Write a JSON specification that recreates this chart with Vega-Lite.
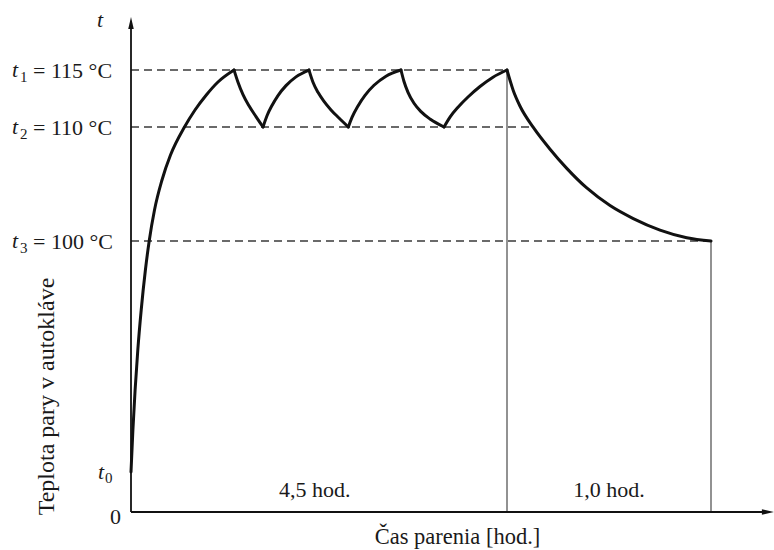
{
  "$schema": "https://vega.github.io/schema/vega-lite/v6.json",
  "width": 642,
  "height": 495,
  "autosize": {"type": "none"},
  "padding": {"left": 131, "top": 17, "right": 1, "bottom": 38},
  "background": "white",
  "config": {"view": {"stroke": null}, "font": "Liberation Serif"},
  "data": {"values": [{"popis": "os"}]},
  "datasets": {
    "krivka": [
      {"usek": 1, "h": 0, "T": 14.76},
      {"usek": 1, "h": 0.0227, "T": 30.26},
      {"usek": 1, "h": 0.0491, "T": 45.02},
      {"usek": 1, "h": 0.0814, "T": 59.78},
      {"usek": 1, "h": 0.1221, "T": 74.54},
      {"usek": 1, "h": 0.1723, "T": 89.3},
      {"usek": 1, "h": 0.2178, "T": 100},
      {"usek": 1, "h": 0.2812, "T": 102.72},
      {"usek": 1, "h": 0.371, "T": 105.35},
      {"usek": 1, "h": 0.4727, "T": 107.54},
      {"usek": 1, "h": 0.6403, "T": 110},
      {"usek": 1, "h": 0.766, "T": 111.49},
      {"usek": 1, "h": 0.9012, "T": 112.81},
      {"usek": 1, "h": 1.0412, "T": 113.95},
      {"usek": 1, "h": 1.233, "T": 115},
      {"usek": 2, "h": 1.233, "T": 115},
      {"usek": 2, "h": 1.2806, "T": 113.93},
      {"usek": 2, "h": 1.3404, "T": 112.84},
      {"usek": 2, "h": 1.4122, "T": 111.86},
      {"usek": 2, "h": 1.496, "T": 110.91},
      {"usek": 2, "h": 1.58, "T": 110},
      {"usek": 3, "h": 1.58, "T": 110},
      {"usek": 3, "h": 1.6277, "T": 110.99},
      {"usek": 3, "h": 1.6875, "T": 111.89},
      {"usek": 3, "h": 1.7593, "T": 112.76},
      {"usek": 3, "h": 1.855, "T": 113.63},
      {"usek": 3, "h": 1.9747, "T": 114.4},
      {"usek": 3, "h": 2.13, "T": 115},
      {"usek": 4, "h": 2.13, "T": 115},
      {"usek": 4, "h": 2.1782, "T": 113.93},
      {"usek": 4, "h": 2.238, "T": 113.04},
      {"usek": 4, "h": 2.3098, "T": 112.25},
      {"usek": 4, "h": 2.3936, "T": 111.5},
      {"usek": 4, "h": 2.4893, "T": 110.79},
      {"usek": 4, "h": 2.601, "T": 110},
      {"usek": 5, "h": 2.601, "T": 110},
      {"usek": 5, "h": 2.6449, "T": 110.84},
      {"usek": 5, "h": 2.7168, "T": 111.85},
      {"usek": 5, "h": 2.8005, "T": 112.78},
      {"usek": 5, "h": 2.9083, "T": 113.66},
      {"usek": 5, "h": 3.0518, "T": 114.46},
      {"usek": 5, "h": 3.231, "T": 115},
      {"usek": 6, "h": 3.231, "T": 115},
      {"usek": 6, "h": 3.2673, "T": 113.99},
      {"usek": 6, "h": 3.3152, "T": 113.04},
      {"usek": 6, "h": 3.387, "T": 112.08},
      {"usek": 6, "h": 3.4707, "T": 111.35},
      {"usek": 6, "h": 3.5784, "T": 110.7},
      {"usek": 6, "h": 3.746, "T": 110},
      {"usek": 7, "h": 3.746, "T": 110},
      {"usek": 7, "h": 3.8178, "T": 110.87},
      {"usek": 7, "h": 3.9136, "T": 111.73},
      {"usek": 7, "h": 4.0332, "T": 112.63},
      {"usek": 7, "h": 4.1768, "T": 113.55},
      {"usek": 7, "h": 4.3324, "T": 114.37},
      {"usek": 7, "h": 4.5, "T": 115},
      {"usek": 8, "h": 4.5, "T": 115},
      {"usek": 8, "h": 4.531, "T": 113.18},
      {"usek": 8, "h": 4.564, "T": 111.82},
      {"usek": 8, "h": 4.629, "T": 109.96},
      {"usek": 8, "h": 4.711, "T": 108.05},
      {"usek": 8, "h": 4.793, "T": 106.37},
      {"usek": 8, "h": 4.891, "T": 104.65},
      {"usek": 8, "h": 5.005, "T": 103.11},
      {"usek": 8, "h": 5.119, "T": 101.97},
      {"usek": 8, "h": 5.25, "T": 100.96},
      {"usek": 8, "h": 5.381, "T": 100.29},
      {"usek": 8, "h": 5.5, "T": 100}
    ],
    "hladiny": [
      {"index": "1", "T": 115, "od": 0, "do": 4.5, "text": "= 115 °C"},
      {"index": "2", "T": 110, "od": 0, "do": 4.629, "text": "= 110 °C"},
      {"index": "3", "T": 100, "od": 0, "do": 5.5, "text": "= 100 °C"}
    ],
    "useky": [
      {"h": 4.5, "T0": 0, "T": 115, "stred": 2.2, "text": "4,5 hod."},
      {"h": 5.5, "T0": 0, "T": 100, "stred": 5.0, "text": "1,0 hod."}
    ],
    "osi": [
      {"os": "T", "h0": 0, "h1": 0, "T0": 0, "T1": 118.6},
      {"os": "h", "h0": 0, "h1": 5.75, "T0": 0, "T1": 0}
    ]
  },
  "layer": [
    {
      "data": {"name": "hladiny"},
      "mark": {"type": "rule", "color": "#3a3a3a", "strokeWidth": 1.6, "strokeDash": [8, 5]},
      "encoding": {
        "x": {
          "field": "od", "type": "quantitative",
          "scale": {"domain": [0, 4.5, 5.5, 5.804], "range": [0, 376, 580, 642], "nice": false, "zero": false},
          "axis": {"title": "Čas parenia [hod.]", "domain": false, "ticks": false, "labels": false, "grid": false,
                   "titleFont": "Liberation Serif", "titleFontSize": 22.5, "titleFontWeight": "normal", "titleColor": "#1a1a1a",
                   "titleX": 326, "titleY": 31, "titleBaseline": "alphabetic", "titleAlign": "center"}
        },
        "x2": {"field": "do"},
        "y": {
          "field": "T", "type": "quantitative",
          "scale": {"domain": [0, 100, 119.65], "range": [495, 224, 0], "nice": false, "zero": false},
          "axis": {"title": "Teplota pary v autokláve", "domain": false, "ticks": false, "labels": false, "grid": false,
                   "titleFont": "Liberation Serif", "titleFontSize": 24, "titleFontWeight": "normal", "titleColor": "#1a1a1a",
                   "titleX": -85, "titleY": 379, "titleAngle": -90, "titleBaseline": "middle", "titleAlign": "center"}
        }
      }
    },
    {
      "data": {"name": "useky"},
      "mark": {"type": "rule", "color": "#777777", "strokeWidth": 1.6},
      "encoding": {
        "x": {"field": "h", "type": "quantitative"},
        "y": {"field": "T0", "type": "quantitative"},
        "y2": {"field": "T"}
      }
    },
    {
      "data": {"name": "krivka"},
      "mark": {"type": "line", "interpolate": "monotone", "color": "#111111", "strokeWidth": 3, "strokeCap": "round", "strokeJoin": "round"},
      "encoding": {
        "x": {"field": "h", "type": "quantitative"},
        "y": {"field": "T", "type": "quantitative"},
        "detail": {"field": "usek", "type": "nominal"}
      }
    },
    {
      "data": {"name": "osi"},
      "mark": {"type": "rule", "color": "#111111", "strokeWidth": 1.8},
      "encoding": {
        "x": {"field": "h0", "type": "quantitative"},
        "x2": {"field": "h1"},
        "y": {"field": "T0", "type": "quantitative"},
        "y2": {"field": "T1"}
      }
    },
    {
      "mark": {"type": "point", "filled": true, "color": "#111111", "opacity": 1, "size": 144, "shape": "M0,-1L0.46,1L-0.46,1Z"},
      "encoding": {"x": {"datum": 0, "type": "quantitative"}, "y": {"datum": 119.12, "type": "quantitative"}}
    },
    {
      "mark": {"type": "point", "filled": true, "color": "#111111", "opacity": 1, "size": 144, "shape": "M1,0L-1,0.46L-1,-0.46Z"},
      "encoding": {"x": {"datum": 5.779, "type": "quantitative"}, "y": {"datum": 0, "type": "quantitative"}}
    },
    {
      "data": {"name": "hladiny"},
      "mark": {"type": "text", "font": "Liberation Serif", "fontSize": 22, "fontStyle": "italic", "color": "#1a1a1a", "align": "left", "baseline": "middle", "dx": -119, "dy": 0, "text": "t"},
      "encoding": {"x": {"datum": 0, "type": "quantitative"}, "y": {"field": "T", "type": "quantitative"}}
    },
    {
      "data": {"name": "hladiny"},
      "mark": {"type": "text", "font": "Liberation Serif", "fontSize": 15, "color": "#1a1a1a", "align": "left", "baseline": "middle", "dx": -111, "dy": 7},
      "encoding": {"x": {"datum": 0, "type": "quantitative"}, "y": {"field": "T", "type": "quantitative"}, "text": {"field": "index", "type": "nominal"}}
    },
    {
      "data": {"name": "hladiny"},
      "mark": {"type": "text", "font": "Liberation Serif", "fontSize": 22, "color": "#1a1a1a", "align": "left", "baseline": "middle", "dx": -98, "dy": 1},
      "encoding": {"x": {"datum": 0, "type": "quantitative"}, "y": {"field": "T", "type": "quantitative"}, "text": {"field": "text", "type": "nominal"}}
    },
    {
      "data": {"name": "useky"},
      "mark": {"type": "text", "font": "Liberation Serif", "fontSize": 22, "color": "#1a1a1a", "align": "center", "baseline": "alphabetic"},
      "encoding": {"x": {"field": "stred", "type": "quantitative"}, "y": {"datum": 5.5, "type": "quantitative"}, "text": {"field": "text", "type": "nominal"}}
    },
    {
      "mark": {"type": "text", "font": "Liberation Serif", "fontSize": 22, "fontStyle": "italic", "color": "#1a1a1a", "align": "left", "baseline": "middle", "dx": -33, "dy": 0, "text": "t"},
      "encoding": {"x": {"datum": 0, "type": "quantitative"}, "y": {"datum": 14.76, "type": "quantitative"}}
    },
    {
      "mark": {"type": "text", "font": "Liberation Serif", "fontSize": 15, "color": "#1a1a1a", "align": "left", "baseline": "middle", "dx": -26, "dy": 6, "text": "0"},
      "encoding": {"x": {"datum": 0, "type": "quantitative"}, "y": {"datum": 14.76, "type": "quantitative"}}
    },
    {
      "mark": {"type": "text", "font": "Liberation Serif", "fontSize": 22, "color": "#1a1a1a", "align": "left", "baseline": "middle", "dx": -21, "dy": 5, "text": "0"},
      "encoding": {"x": {"datum": 0, "type": "quantitative"}, "y": {"datum": 0, "type": "quantitative"}}
    },
    {
      "mark": {"type": "text", "font": "Liberation Serif", "fontSize": 22, "fontStyle": "italic", "color": "#1a1a1a", "align": "left", "baseline": "middle", "dx": -34, "dy": -3, "text": "t"},
      "encoding": {"x": {"datum": 0, "type": "quantitative"}, "y": {"datum": 119.12, "type": "quantitative"}}
    }
  ]
}
